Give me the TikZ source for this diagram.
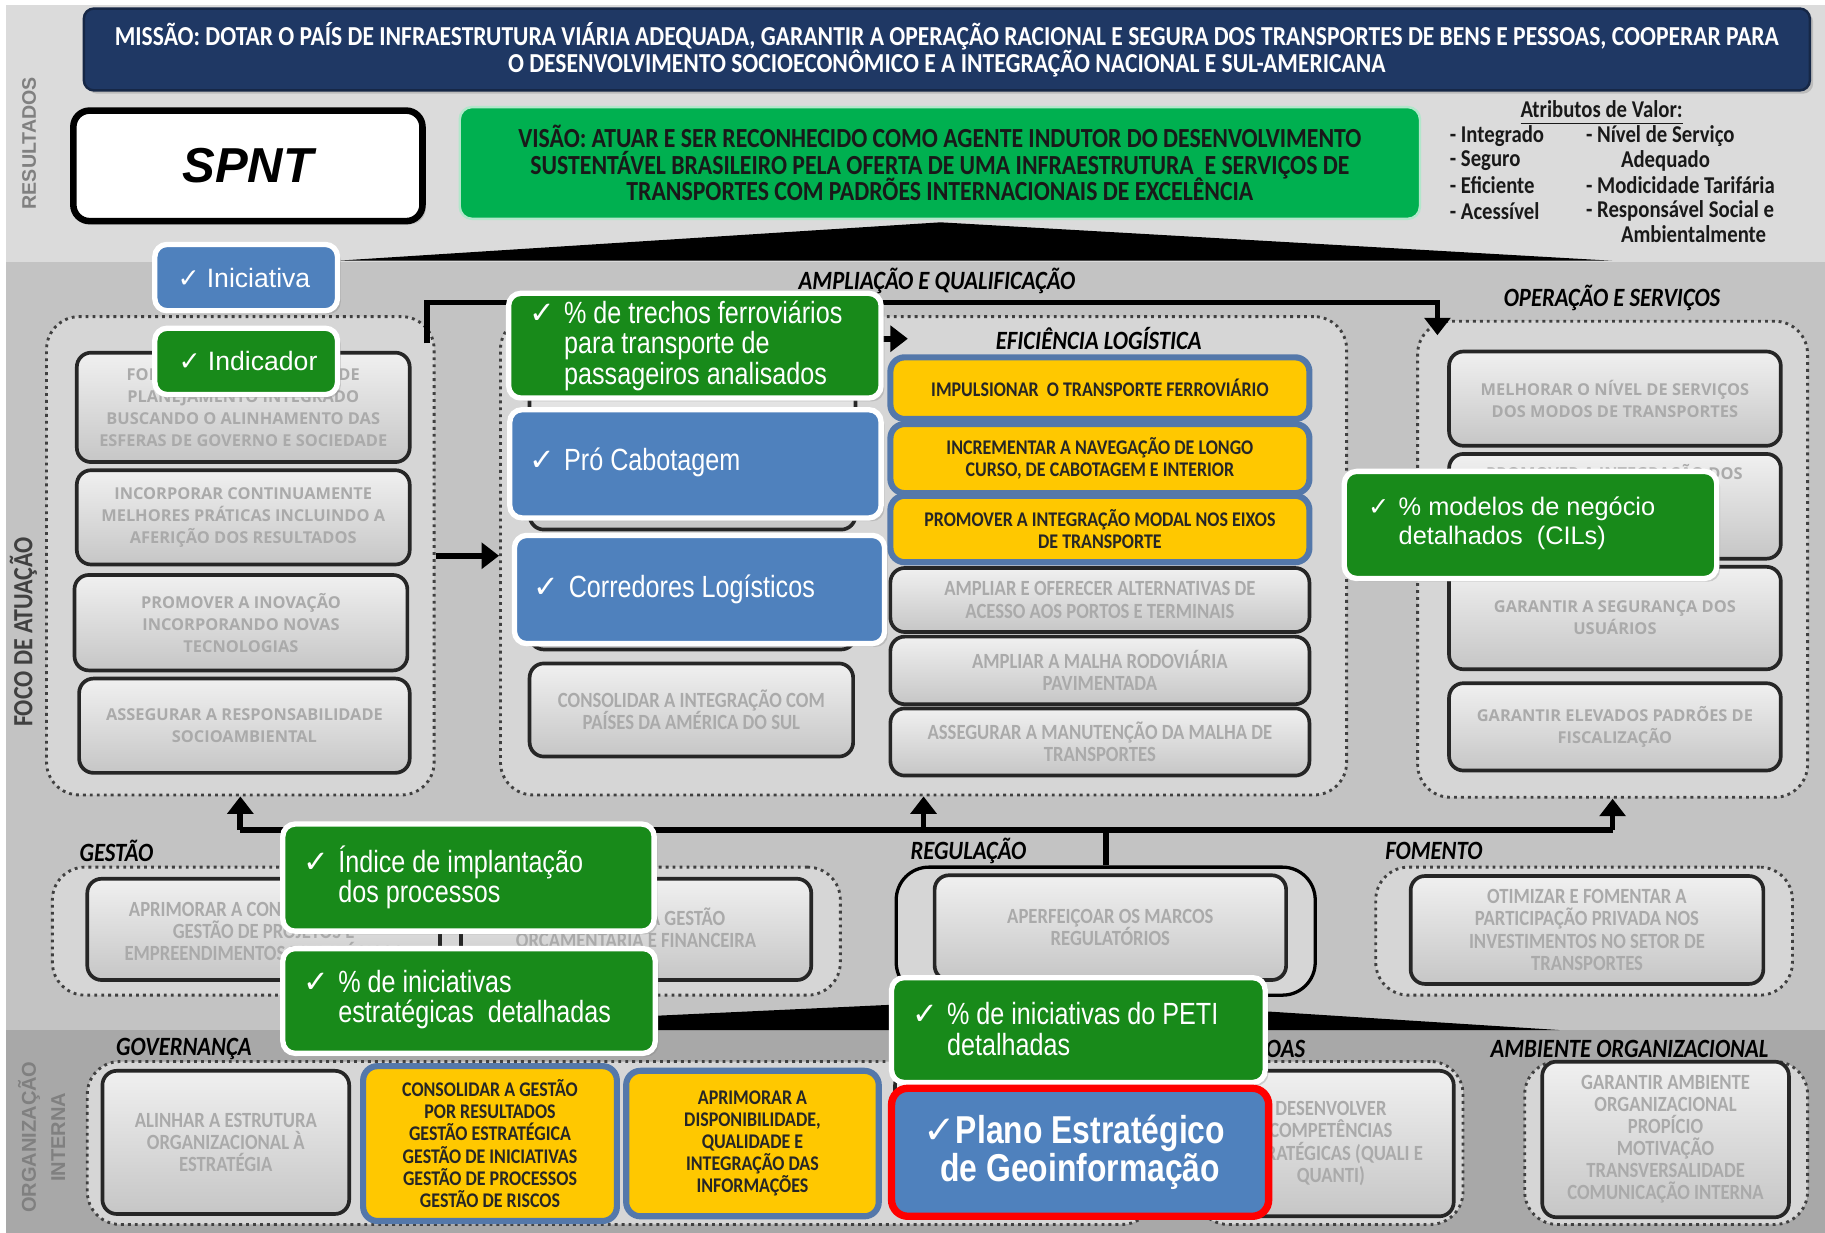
\documentclass[tikz,border=0pt]{standalone}
\usepackage{fontspec}
\setmainfont{Carlito}
\newfontfamily\calf[FakeStretch=0.86]{Carlito}
\newfontfamily\arf{Liberation Sans}
\newfontfamily\narf[FakeStretch=0.82]{Liberation Sans}
\newfontfamily\osf{Open Sans}
\newfontfamily\chkf{DejaVu Sans}
\usepackage{xcolor}
\usetikzlibrary{arrows.meta,shadows}

\definecolor{navy}{RGB}{31,56,100}
\definecolor{visgreen}{RGB}{0,176,80}
\definecolor{cgreen}{RGB}{24,138,26}
\definecolor{cblue}{RGB}{79,129,189}
\definecolor{gold}{RGB}{255,200,0}
\definecolor{goalline}{RGB}{84,120,170}
\definecolor{bandtop}{RGB}{219,219,219}
\definecolor{bandmid}{RGB}{195,195,195}
\definecolor{bandlow}{RGB}{168,168,168}
\definecolor{grpfill}{RGB}{214,214,214}
\definecolor{objtop}{RGB}{240,240,240}
\definecolor{objbot}{RGB}{198,198,198}
\definecolor{objtext}{RGB}{170,170,170}

\newcommand{\ck}{{\chkf ✓}}
\newcommand{\tightlines}{\lineskiplimit -5pt\relax}

\tikzset{
  bandlabel/.style={rotate=90, inner sep=0pt},
  mission/.style={rectangle, rounded corners=2.5pt, fill=navy, draw=navy!70!black, line width=0.6pt, text=white, align=center, font=\calf\bfseries\fontsize{6.7}{6.6}\selectfont\tightlines, drop shadow={opacity=0.35,shadow xshift=0.8pt,shadow yshift=-0.8pt}},
  spnt/.style={rectangle, rounded corners=4pt, fill=white, draw=black, line width=1.6pt, font=\arf\bfseries\itshape\fontsize{12}{14}\selectfont, drop shadow={opacity=0.35,shadow xshift=0.8pt,shadow yshift=-0.8pt}},
  vision/.style={rectangle, rounded corners=3pt, fill=visgreen, draw=white!70!visgreen, line width=0.6pt, text=black!90, align=center, font=\calf\bfseries\fontsize{6.75}{6.5}\selectfont\tightlines},
  attr/.style={inner sep=0pt, text=black!90, font=\calf\bfseries\fontsize{5.9}{6}\selectfont},
  roof/.style={fill=black},
  grp/.style={rectangle, rounded corners=8pt, fill=grpfill, draw=black!75, densely dotted, line width=0.7pt},
  grpsolid/.style={rectangle, rounded corners=8pt, fill=grpfill, draw=black, line width=0.8pt},
  grplabel/.style={inner sep=0pt, font=\calf\bfseries\itshape\fontsize{6.45}{7}\selectfont},
  objbox/.style={rectangle, rounded corners=3.5pt, top color=objtop, bottom color=objbot, draw=black!85, line width=0.9pt, text=objtext, align=center, font=\calf\bfseries\fontsize{5.3}{5.4}\selectfont},
  objboxos/.style={objbox, font=\osf\bfseries\fontsize{4}{5.4}\selectfont},
  objtxt/.style={inner sep=0pt, text=objtext, align=center, font=\osf\bfseries\fontsize{4}{5.4}\selectfont},
  goalbox/.style={rectangle, rounded corners=3.5pt, fill=gold, draw=goalline, line width=1.5pt, text=black!85, align=center, font=\calf\bfseries\fontsize{5.1}{5.4}\selectfont},
  callout/.style={rectangle, rounded corners=3pt, draw=white, line width=1.3pt, drop shadow={opacity=0.3,shadow xshift=0.8pt,shadow yshift=-0.8pt}},
  callgreen/.style={callout, fill=cgreen},
  callblue/.style={callout, fill=cblue},
  calltext/.style={anchor=west, inner sep=0pt, align=left, text=white, font=\narf\fontsize{7.5}{7.4}\selectfont},
  plano/.style={rectangle, rounded corners=4pt, fill=cblue, draw=red, line width=1.8pt, text=white, align=center, font=\narf\bfseries\fontsize{9.5}{9.4}\selectfont},
  bus/.style={line width=1.4pt, draw=black},
  bigtip/.style={-{Triangle[width=0.22cm,length=0.15cm]}}
}

\begin{document}
\begin{tikzpicture}[x=1cm,y=-1cm]
\useasboundingbox (0,0) rectangle (15.68,10.59);
\fill[white] (0,0) rectangle (15.68,10.59);
\fill[bandtop] (0.05,0.04) rectangle (15.68,2.25);
\fill[bandmid] (0.05,2.25) rectangle (15.68,8.85);
\fill[bandlow] (0.05,8.85) rectangle (15.68,10.59);

\node at (0.25,1.23) [bandlabel, text=gray, font=\arf\bfseries\fontsize{4.8}{5}\selectfont] (resultados) {RESULTADOS};
\node at (0.20,5.43) [bandlabel, text=black!75, font=\calf\bfseries\fontsize{6.8}{7}\selectfont] (foco) {FOCO DE ATUAÇÃO};
\node at (0.25,9.77) [bandlabel, text=gray, font=\arf\bfseries\fontsize{4.9}{5}\selectfont] (organizacao) {ORGANIZAÇÃO};
\node at (0.50,9.77) [bandlabel, text=gray, font=\arf\bfseries\fontsize{4.9}{5}\selectfont] (interna) {INTERNA};

\node at (8.135,0.425) [mission, minimum width=14.83cm, minimum height=0.69cm] (missao) {MISSÃO: DOTAR O PAÍS DE INFRAESTRUTURA VIÁRIA ADEQUADA, GARANTIR A OPERAÇÃO RACIONAL E SEGURA DOS TRANSPORTES DE BENS E PESSOAS, COOPERAR PARA\\O DESENVOLVIMENTO SOCIOECONÔMICO E A INTEGRAÇÃO NACIONAL E SUL-AMERICANA};
\node at (2.13,1.425) [spnt, minimum width=3.0cm, minimum height=0.95cm] (spnt) {SPNT};
\fill[roof] (2.90,2.24) -- (8.08,1.91) -- (13.85,2.24) -- cycle;
\node at (8.075,1.40) [vision, minimum width=8.25cm, minimum height=0.96cm] (visao) {VISÃO: ATUAR E SER RECONHECIDO COMO AGENTE INDUTOR DO DESENVOLVIMENTO\\SUSTENTÁVEL BRASILEIRO PELA OFERTA DE UMA INFRAESTRUTURA\ \ E SERVIÇOS DE\\TRANSPORTES COM PADRÕES INTERNACIONAIS DE EXCELÊNCIA};

\node at (13.76,0.975) [attr] (atributos) {\underline{Atributos de Valor:}};
\node at (12.45,1.17) [attr, anchor=west] (integrado) {- Integrado};
\node at (12.45,1.38) [attr, anchor=west] (seguro) {- Seguro};
\node at (12.45,1.59) [attr, anchor=west] (eficiente) {- Eficiente};
\node at (12.45,1.81) [attr, anchor=west] (acessivel) {- Acessível};
\node at (13.62,1.17) [attr, anchor=west] (nivel) {- Nível de Serviço};
\node at (13.92,1.38) [attr, anchor=west] (adequado) {Adequado};
\node at (13.62,1.59) [attr, anchor=west] (modicidade) {- Modicidade Tarifária};
\node at (13.62,1.81) [attr, anchor=west] (responsavel) {- Responsável Social e};
\node at (13.92,2.01) [attr, anchor=west] (ambientalmente) {Ambientalmente};

\node at (2.065,4.775) [grp, minimum width=3.33cm, minimum height=4.11cm] (leftgrp) {};
\node at (7.935,4.775) [grp, minimum width=7.27cm, minimum height=4.11cm] (midgrp) {};
\node at (13.855,4.805) [grp, minimum width=3.35cm, minimum height=4.09cm] (opgrp) {};

\node at (2.09,3.50) [objboxos, minimum width=2.86cm, minimum height=0.94cm] (fortalecer) {FORTALECER O PROCESSO DE\\PLANEJAMENTO INTEGRADO\\BUSCANDO O ALINHAMENTO DAS\\ESFERAS DE GOVERNO E SOCIEDADE};
\node at (2.09,4.445) [objboxos, minimum width=2.86cm, minimum height=0.81cm] (incorporar) {INCORPORAR CONTINUAMENTE\\MELHORES PRÁTICAS INCLUINDO A\\AFERIÇÃO DOS RESULTADOS};
\node at (2.07,5.35) [objboxos, minimum width=2.86cm, minimum height=0.82cm] (inovacao) {PROMOVER A INOVAÇÃO\\INCORPORANDO NOVAS\\TECNOLOGIAS};
\node at (2.10,6.235) [objboxos, minimum width=2.84cm, minimum height=0.81cm] (socioamb) {ASSEGURAR A RESPONSABILIDADE\\SOCIOAMBIENTAL};

\node at (5.95,3.775) [objbox, minimum width=2.80cm, minimum height=1.55cm] (midA) {};
\node at (5.95,5.10) [objbox, minimum width=2.80cm, minimum height=0.96cm] (midB) {};
\node at (5.94,6.10) [objbox, minimum width=2.78cm, minimum height=0.80cm] (americasul) {CONSOLIDAR A INTEGRAÇÃO COM\\PAÍSES DA AMÉRICA DO SUL};

\node at (9.45,3.335) [goalbox, minimum width=3.60cm, minimum height=0.53cm] (ferroviario) {IMPULSIONAR\ \ O TRANSPORTE FERROVIÁRIO};
\node at (9.45,3.94) [goalbox, minimum width=3.60cm, minimum height=0.56cm] (navegacao) {INCREMENTAR A NAVEGAÇÃO DE LONGO\\CURSO, DE CABOTAGEM E INTERIOR};
\node at (9.45,4.545) [goalbox, minimum width=3.60cm, minimum height=0.55cm] (intermodal) {PROMOVER A INTEGRAÇÃO MODAL NOS EIXOS\\DE TRANSPORTE};
\node at (9.45,5.155) [objbox, minimum width=3.60cm, minimum height=0.55cm] (portos) {AMPLIAR E OFERECER ALTERNATIVAS DE\\ACESSO AOS PORTOS E TERMINAIS};
\node at (9.45,5.76) [objbox, minimum width=3.60cm, minimum height=0.54cm] (rodoviaria) {AMPLIAR A MALHA RODOVIÁRIA\\PAVIMENTADA};
\node at (9.45,6.375) [objbox, minimum width=3.60cm, minimum height=0.55cm] (manutencao) {ASSEGURAR A MANUTENÇÃO DA MALHA DE\\TRANSPORTES};

\node at (8.05,2.41) [grplabel] (ampliacao) {AMPLIAÇÃO E QUALIFICAÇÃO};
\node at (9.44,2.91) [grplabel] (eficiencia) {EFICIÊNCIA LOGÍSTICA};
\node at (13.85,2.56) [grplabel] (operacao) {OPERAÇÃO E SERVIÇOS};

\node at (13.875,3.425) [objboxos, minimum width=2.85cm, minimum height=0.81cm] (nivelserv) {MELHORAR O NÍVEL DE SERVIÇOS\\DOS MODOS DE TRANSPORTES};
\node at (13.875,4.35) [objboxos, minimum width=2.85cm, minimum height=0.90cm] (integracao) {};
\node at (13.87,4.16) [objtxt] (integracaotxt) {PROMOVER A INTEGRAÇÃO DOS\\MODOS DE TRANSPORTE,};
\node at (13.875,5.31) [objboxos, minimum width=2.85cm, minimum height=0.88cm] (seguranca) {GARANTIR A SEGURANÇA DOS\\USUÁRIOS};
\node at (13.875,6.245) [objboxos, minimum width=2.85cm, minimum height=0.75cm] (fiscalizacao) {GARANTIR ELEVADOS PADRÕES DE\\FISCALIZAÇÃO};

\fill[roof] (3.00,8.85) -- (9.00,8.57) -- (13.40,8.85) -- cycle;

\node at (3.835,8.00) [grp, minimum width=6.77cm, minimum height=1.10cm] (gestgrp) {};
\node at (2.265,7.985) [objbox, minimum width=3.03cm, minimum height=0.87cm] (projetos) {APRIMORAR A CONSOLIDAÇÃO DA\\GESTÃO DE PROJETOS E\\EMPREENDIMENTOS ESTRATÉGICOS};
\node at (5.465,7.985) [objbox, minimum width=3.01cm, minimum height=0.87cm] (orcamento) {APRIMORAR A GESTÃO\\ORÇAMENTÁRIA E FINANCEIRA};
\node at (9.50,8.00) [grpsolid, minimum width=3.60cm, minimum height=1.10cm] (reggrp) {};
\node at (9.54,7.97) [objbox, minimum width=3.02cm, minimum height=0.90cm] (marcos) {APERFEIÇOAR OS MARCOS\\REGULATÓRIOS};
\node at (13.61,8.00) [grp, minimum width=3.58cm, minimum height=1.10cm] (fomgrp) {};
\node at (13.635,7.99) [objbox, minimum width=3.03cm, minimum height=0.92cm] (privada) {OTIMIZAR E FOMENTAR A\\PARTICIPAÇÃO PRIVADA NOS\\INVESTIMENTOS NO SETOR DE\\TRANSPORTES};
\node at (1.00,7.31) [grplabel] (gestao) {GESTÃO};
\node at (8.32,7.31) [grplabel] (regulacao) {REGULAÇÃO};
\node at (12.32,7.31) [grplabel] (fomento) {FOMENTO};

\node at (5.335,9.82) [grp, minimum width=9.17cm, minimum height=1.40cm] (govgrp) {};
\node at (11.42,9.82) [grp, minimum width=2.30cm, minimum height=1.40cm] (pessgrp) {};
\node at (14.315,9.82) [grp, minimum width=2.43cm, minimum height=1.40cm] (ambgrp) {};
\node at (1.94,9.815) [objbox, minimum width=2.12cm, minimum height=1.23cm] (estrutura) {ALINHAR A ESTRUTURA\\ORGANIZACIONAL À\\ESTRATÉGIA};
\node at (4.21,9.825) [goalbox, minimum width=2.18cm, minimum height=1.25cm] (porresultados) {CONSOLIDAR A GESTÃO\\POR RESULTADOS\\GESTÃO ESTRATÉGICA\\GESTÃO DE INICIATIVAS\\GESTÃO DE PROCESSOS\\GESTÃO DE RISCOS};
\node at (6.465,9.825) [goalbox, minimum width=2.17cm, minimum height=1.25cm] (informacoes) {APRIMORAR A\\DISPONIBILIDADE,\\QUALIDADE E\\INTEGRAÇÃO DAS\\INFORMAÇÕES};
\node at (8.75,9.825) [objbox, minimum width=2.12cm, minimum height=1.25cm] (govD) {};
\node at (11.435,9.825) [objbox, minimum width=2.11cm, minimum height=1.25cm] (competencias) {DESENVOLVER\\COMPETÊNCIAS\\ESTRATÉGICAS (QUALI E\\QUANTI)};
\node at (14.31,9.79) [objbox, minimum width=2.12cm, minimum height=1.22cm] (ambiente) {GARANTIR AMBIENTE\\ORGANIZACIONAL\\PROPÍCIO\\MOTIVAÇÃO\\TRANSVERSALIDADE\\COMUNICAÇÃO INTERNA};
\node at (1.58,9.01) [grplabel] (governanca) {GOVERNANÇA};
\node at (11.22,9.01) [grplabel, anchor=east] (pessoas) {PESSOAS};
\node at (14.00,9.01) [grplabel] (ambientelbl) {AMBIENTE ORGANIZACIONAL};

\coordinate (toprow) at (0,2.60);
\coordinate (topA) at (3.67,2.95);
\coordinate (opin) at (12.35,2.88);
\coordinate (effsrc) at (7.00,2.91);
\coordinate (effin) at (7.80,2.91);
\coordinate (busrow) at (0,7.13);
\draw[bus, bigtip] (topA) -- (topA |- toprow) -- (opin |- toprow) -- (opin);
\draw[bus, bigtip] (effsrc) -- (effin);
\draw[bus, bigtip] (leftgrp.east) -- (midgrp.west);
\draw[bus] (leftgrp.south |- busrow) -- (opgrp.south |- busrow);
\draw[bus, bigtip] (leftgrp.south |- busrow) -- (leftgrp.south);
\draw[bus, bigtip] (midgrp.south |- busrow) -- (midgrp.south);
\draw[bus, bigtip] (opgrp.south |- busrow) -- (opgrp.south);
\draw[bus] (reggrp.north) -- (reggrp.north |- busrow);

\node at (2.115,2.385) [callblue, minimum width=1.57cm, minimum height=0.57cm] (iniciativa) {};
\node at (1.77,2.385) [calltext, font=\arf\fontsize{6.5}{7}\selectfont] (iniciativatxt) {\llap{\ck\hspace{0.06cm}}Iniciativa};
\node at (2.115,3.105) [callgreen, minimum width=1.57cm, minimum height=0.57cm] (indicador) {};
\node at (1.78,3.105) [calltext, font=\arf\fontsize{6.5}{7}\selectfont] (indicadortxt) {\llap{\ck\hspace{0.06cm}}Indicador};
\node at (5.97,2.97) [callgreen, minimum width=3.20cm, minimum height=0.90cm] (trechos) {};
\node at (4.84,2.97) [calltext] (trechostxt) {\llap{\ck\hspace{0.08cm}}\% de trechos ferroviários\\para transporte de\\passageiros analisados};
\node at (5.975,3.985) [callblue, minimum width=3.19cm, minimum height=0.93cm] (cabotagem) {};
\node at (4.84,3.97) [calltext] (cabotagemtxt) {\llap{\ck\hspace{0.08cm}}Pró Cabotagem};
\node at (6.01,5.065) [callblue, minimum width=3.18cm, minimum height=0.93cm] (corredores) {};
\node at (4.88,5.06) [calltext] (corredorestxt) {\llap{\ck\hspace{0.08cm}}Corredores Logísticos};
\node at (13.15,4.51) [callgreen, minimum width=3.20cm, minimum height=0.92cm] (modelos) {};
\node at (12.01,4.495) [calltext, font=\arf\fontsize{6.2}{7.1}\selectfont] (modelostxt) {\llap{\ck\hspace{0.08cm}}\% modelos de negócio\\detalhados\ \ (CILs)};
\node at (4.025,7.54) [callgreen, minimum width=3.19cm, minimum height=0.92cm] (indice) {};
\node at (2.90,7.54) [calltext] (indicetxt) {\llap{\ck\hspace{0.08cm}}Índice de implantação\\dos processos};
\node at (4.03,8.60) [callgreen, minimum width=3.20cm, minimum height=0.90cm] (iniciativas) {};
\node at (2.90,8.585) [calltext] (iniciativastxt) {\llap{\ck\hspace{0.08cm}}\% de iniciativas\\estratégicas\ \ detalhadas};
\node at (9.265,8.85) [callgreen, minimum width=3.21cm, minimum height=0.90cm] (peti) {};
\node at (8.13,8.84) [calltext] (petitxt) {\llap{\ck\hspace{0.08cm}}\% de iniciativas do PETI\\detalhadas};
\node at (9.28,9.90) [plano, minimum width=3.24cm, minimum height=1.10cm] (plano) {\ck Plano Estratégico\hspace*{0.1cm}\\de Geoinformação};
\end{tikzpicture}
\end{document}
